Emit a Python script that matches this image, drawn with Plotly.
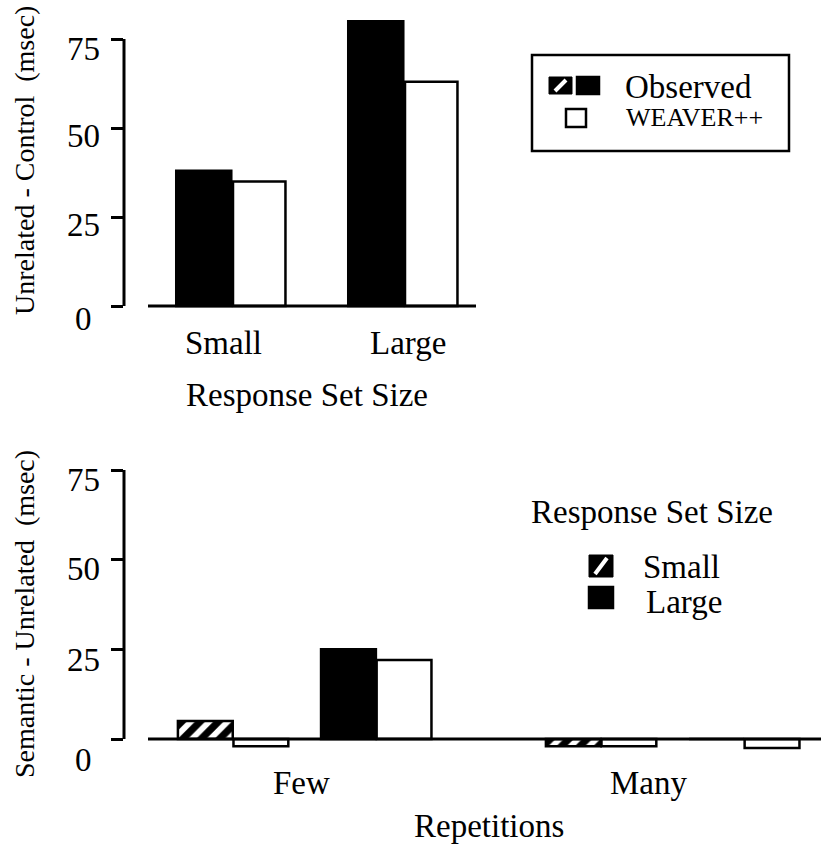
import plotly.graph_objects as go

W, H = 821, 847
FONT = "Liberation Serif, Times New Roman, DejaVu Serif, serif"

# ---------------- data ----------------
set_sizes = ["Small", "Large"]
observed_top = [38, 80]
weaver_top = [35, 63]

repetitions = ["Few", "Many"]
obs_small_bottom = [5, -2]
weaver_small_bottom = [-2, -2]
obs_large_bottom = [25, 0]
weaver_large_bottom = [22, -2.5]

y_ticks = [0, 25, 50, 75]
y_tick_labels = ["0", "25", "50", "75"]


def X(px):
    return px / W


def Y(py):
    return 1 - py / H


fig = go.Figure()
line = dict(color="black", width=2.5)

# ---- top panel (grouped bars) ----
top_idx = list(range(len(set_sizes)))
fig.add_trace(go.Bar(x=top_idx, y=observed_top, width=0.32, offset=-0.33,
                     marker=dict(color="black", line=line),
                     xaxis="x", yaxis="y", showlegend=False))
fig.add_trace(go.Bar(x=top_idx, y=weaver_top, width=0.305, offset=0,
                     marker=dict(color="white", line=line),
                     xaxis="x", yaxis="y", showlegend=False))

# ---- bottom panel ----
bot_idx = list(range(len(repetitions)))
hatch = dict(shape="/", fgcolor="black", fgopacity=1, bgcolor="white", size=13, solidity=0.55)
bw = 0.149
fig.add_trace(go.Bar(x=bot_idx, y=obs_small_bottom, width=bw, offset=-0.344,
                     marker=dict(color="white", line=line, pattern=hatch),
                     xaxis="x2", yaxis="y2", showlegend=False))
fig.add_trace(go.Bar(x=bot_idx, y=weaver_small_bottom, width=bw, offset=-0.193,
                     marker=dict(color="white", line=line),
                     xaxis="x2", yaxis="y2", showlegend=False))
fig.add_trace(go.Bar(x=bot_idx, y=obs_large_bottom, width=bw, offset=0.045,
                     marker=dict(color="black", line=line),
                     xaxis="x2", yaxis="y2", showlegend=False))
fig.add_trace(go.Bar(x=bot_idx, y=weaver_large_bottom, width=bw, offset=0.196,
                     marker=dict(color="white", line=line),
                     xaxis="x2", yaxis="y2", showlegend=False))

hidden_x = dict(showgrid=False, zeroline=False, showline=False,
                showticklabels=False, ticks="", fixedrange=True)
yax = dict(showgrid=False, zeroline=False, showline=False, showticklabels=False,
           ticks="outside", ticklen=12, tickwidth=3, tickcolor="black",
           tickvals=y_ticks, fixedrange=True)

# top: plot area px y 0..330, value 0 at 306, 75 at 39
top_ppu = (306 - 39) / 75
# bottom: plot area px y 430..800, value 0 at 739, 75 at 470
bot_ppu = (739 - 470) / 75

fig.update_layout(
    width=W, height=H,
    margin=dict(l=0, r=0, t=0, b=0),
    paper_bgcolor="white", plot_bgcolor="rgba(0,0,0,0)",
    barmode="overlay",
    font=dict(family=FONT, color="black"),
    xaxis=dict(domain=[X(124), 1], range=[(124 - 233) / 172, (821 - 233) / 172], **hidden_x),
    yaxis=dict(domain=[Y(330), 1], range=[(306 - 330) / top_ppu, 306 / top_ppu], anchor="x", **yax),
    xaxis2=dict(domain=[X(124), 1], range=[(124 - 304.5) / 368, (821 - 304.5) / 368],
                anchor="y2", **hidden_x),
    yaxis2=dict(domain=[Y(800), Y(430)], range=[(739 - 800) / bot_ppu, (739 - 430) / bot_ppu],
                anchor="x2", **yax),
)

shapes = []
# y axis lines
shapes.append(dict(type="line", xref="x domain", yref="y", x0=0, x1=0, y0=0, y1=75,
                   line=dict(color="black", width=3)))
shapes.append(dict(type="line", xref="x2 domain", yref="y2", x0=0, x1=0, y0=0, y1=75,
                   line=dict(color="black", width=3)))
# baselines
shapes.append(dict(type="line", xref="paper", yref="y", x0=X(148), x1=X(476), y0=0, y1=0,
                   line=dict(color="black", width=3)))
shapes.append(dict(type="line", xref="paper", yref="y2", x0=X(148), x1=1, y0=0, y1=0,
                   line=dict(color="black", width=3)))

# top legend box
shapes.append(dict(type="rect", xref="paper", yref="paper", x0=X(532), x1=X(789),
                   y0=Y(151), y1=Y(55), line=dict(color="black", width=2.5)))


def hatched_square(x0, x1, y0, y1):
    shapes.append(dict(type="rect", xref="paper", yref="paper", x0=X(x0), x1=X(x1),
                       y0=Y(y1), y1=Y(y0), fillcolor="black", line=dict(color="black", width=1)))
    shapes.append(dict(type="line", xref="paper", yref="paper",
                       x0=X(x0 + 6), y0=Y(y1 - 3), x1=X(x1 - 6), y1=Y(y0 + 3),
                       line=dict(color="white", width=4)))


def solid_square(x0, x1, y0, y1, fill):
    shapes.append(dict(type="rect", xref="paper", yref="paper", x0=X(x0), x1=X(x1),
                       y0=Y(y1), y1=Y(y0), fillcolor=fill, line=dict(color="black", width=2.5)))


hatched_square(549, 572, 77, 94)
solid_square(577, 599, 77, 94, "black")
solid_square(566, 586, 109, 127, "white")
hatched_square(589, 613, 555, 577)
solid_square(589, 613, 587, 608, "black")

fig.update_layout(shapes=shapes)

ann = []


def text(s, x, y, size, xanchor="center", xref="paper", yref="paper", angle=0, xshift=0, yshift=0):
    ann.append(dict(text=s, x=x, y=y, xref=xref, yref=yref, showarrow=False,
                    xanchor=xanchor, yanchor="middle", textangle=angle,
                    xshift=xshift, yshift=yshift,
                    font=dict(family=FONT, size=size, color="black")))


# tick labels
top_shift = {0: -13, 25: -8, 50: -8, 75: -10}
bot_shift = {0: -21, 25: -11, 50: -9, 75: -10}
for v, lab in zip(y_ticks, y_tick_labels):
    text(lab, X(83), v, 33, yref="y", yshift=top_shift[v])
    text(lab, X(83), v, 33, yref="y2", yshift=bot_shift[v])

# category labels
top_label_shift = [-10, 3]
for i, lab in enumerate(set_sizes):
    text(lab, i, Y(343), 33, xref="x", xshift=top_label_shift[i])
bot_label_shift = [-3, -24]
for i, lab in enumerate(repetitions):
    text(lab, i, Y(783), 33, xref="x2", xshift=bot_label_shift[i])

text("Response Set Size", X(307), Y(395), 33)
text("Repetitions", X(489), Y(826), 33)

text("Unrelated - Control&nbsp;&nbsp;(msec)", X(24), Y(161), 28, angle=-90)
text("Semantic - Unrelated&nbsp;&nbsp;(msec)", X(24), Y(614), 28, angle=-90)

# legends
text("Observed", X(623), Y(87), 33, xanchor="left")
text("WEAVER++", X(624), Y(117), 26, xanchor="left")
text("Response Set Size", X(652), Y(512), 33)
text("Small", X(641), Y(567), 33, xanchor="left")
text("Large", X(644), Y(602), 33, xanchor="left")

fig.update_layout(annotations=ann)

fig.write_html("out.html",
               config={"displayModeBar": False, "staticPlot": True},
               post_script="document.body.style.margin='0px';document.body.style.overflow='hidden';")
